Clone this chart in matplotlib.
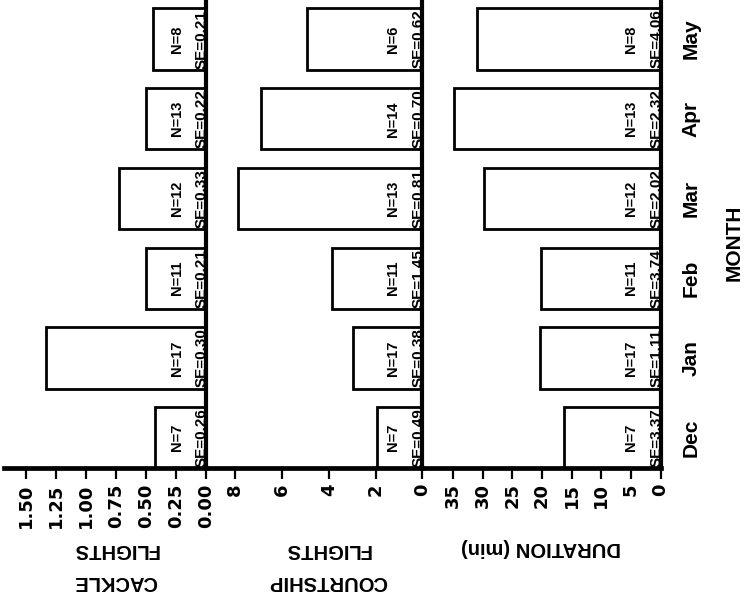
import matplotlib
matplotlib.use("Agg")
import matplotlib.pyplot as plt

# ---------------- data ----------------
months = ["Dec", "Jan", "Feb", "Mar", "Apr", "May"]

cackle = [0.42, 1.33, 0.50, 0.72, 0.50, 0.44]
cackle_n = [7, 17, 11, 12, 13, 8]
cackle_se = ["0.26", "0.30", "0.21", "0.33", "0.22", "0.21"]

courtship = [1.95, 2.95, 3.85, 7.90, 6.90, 4.95]
courtship_n = [7, 17, 11, 13, 14, 6]
courtship_se = ["0.49", "0.38", "1.45", "0.81", "0.70", "0.62"]

duration = [16.3, 20.3, 20.2, 29.8, 34.9, 30.9]
duration_n = [7, 17, 11, 12, 13, 8]
duration_se = ["3.37", "1.11", "3.74", "2.02", "2.32", "4.06"]

cackle_ticks = [0.0, 0.25, 0.50, 0.75, 1.00, 1.25, 1.50]
cackle_ticklabels = ["0.00", "0.25", "0.50", "0.75", "1.00", "1.25", "1.50"]
courtship_ticks = [0, 2, 4, 6, 8]
courtship_ticklabels = ["0", "2", "4", "6", "8"]
duration_ticks = [0, 5, 10, 15, 20, 25, 30, 35]
duration_ticklabels = ["0", "5", "10", "15", "20", "25", "30", "35"]

panel_labels = ["CACKLE\nFLIGHTS", "COURTSHIP\nFLIGHTS", "DURATION (min)"]
xlabel = "MONTH"

# ---------------- figure ----------------
W, H = 745, 595
fig = plt.figure(figsize=(W / 100, H / 100), dpi=100)

LET = "Liberation Sans"
NUM = "DejaVu Sans"

bottom_px = 467.5
ax_bottom = (H - bottom_px) / H
ax_height = bottom_px / H

panels = [
    dict(x0=4.0, x1=205.7, xmax=1.684, vals=cackle, ns=cackle_n, ses=cackle_se,
         ticks=cackle_ticks, tl=cackle_ticklabels),
    dict(x0=205.7, x1=422.3, xmax=9.27, vals=courtship, ns=courtship_n, ses=courtship_se,
         ticks=courtship_ticks, tl=courtship_ticklabels),
    dict(x0=422.3, x1=660.5, xmax=40.2, vals=duration, ns=duration_n, ses=duration_se,
         ticks=duration_ticks, tl=duration_ticklabels),
]

ypos = list(range(len(months)))
axes = []
for k, p in enumerate(panels):
    ax = fig.add_axes([p["x0"] / W, ax_bottom, (p["x1"] - p["x0"]) / W, ax_height])
    axes.append(ax)
    ax.barh(ypos, p["vals"], height=0.77, left=0, facecolor="white",
            edgecolor="black", linewidth=2.0, zorder=1)
    ax.set_xlim(p["xmax"], 0)
    ax.set_ylim(-0.374, 5.49)
    for s in ["top", "left"]:
        ax.spines[s].set_visible(False)
    ax.spines["right"].set_linewidth(3.0)
    ax.spines["bottom"].set_linewidth(3.4)
    ax.spines["right"].set_capstyle("butt")
    ax.set_xticks(p["ticks"])
    ax.set_xticklabels(p["tl"], rotation=90, fontsize=13, fontweight="bold",
                       family=NUM, va="top", ha="center")
    ax.tick_params(axis="x", direction="out", length=8, width=1.6, pad=3.5)
    if k < 2:
        ax.set_yticks([])
    else:
        ax.yaxis.tick_right()
        ax.set_yticks(ypos)
        ax.set_yticklabels(months, rotation=90, fontsize=15, fontweight="bold",
                           family=LET, va="center")
        ax.tick_params(axis="y", length=0, pad=15)
    for i in ypos:
        ax.annotate(f"N={p['ns'][i]}", xy=(0, i), xycoords="data",
                    xytext=(-21, 0), textcoords="offset points",
                    rotation=90, ha="center", va="center", fontsize=10.5,
                    fontweight="bold", family=LET, zorder=4)
        ax.annotate(f"SE={p['ses'][i]}", xy=(0, i), xycoords="data",
                    xytext=(-2.6, 0), textcoords="offset points",
                    rotation=90, ha="center", va="center", fontsize=11,
                    fontweight="bold", family=LET, zorder=4)
    ax.set_facecolor("none")

# panel (value-axis) labels, upside down as in the scan
label_pos = [(115, 565.5), (328, 565.5), (541, 548)]
for lab, (lx, ly) in zip(panel_labels, label_pos):
    fig.text(lx / W, 1 - ly / H, lab, rotation=180, ha="center", va="center",
             multialignment="center", fontsize=14.5, fontweight="bold",
             family=LET, linespacing=1.8)

fig.text(734 / W, 1 - 242.5 / H, xlabel, rotation=90, ha="center", va="center",
         fontsize=15, fontweight="bold", family=LET)

fig.savefig("out.png", dpi=100, facecolor="white")
